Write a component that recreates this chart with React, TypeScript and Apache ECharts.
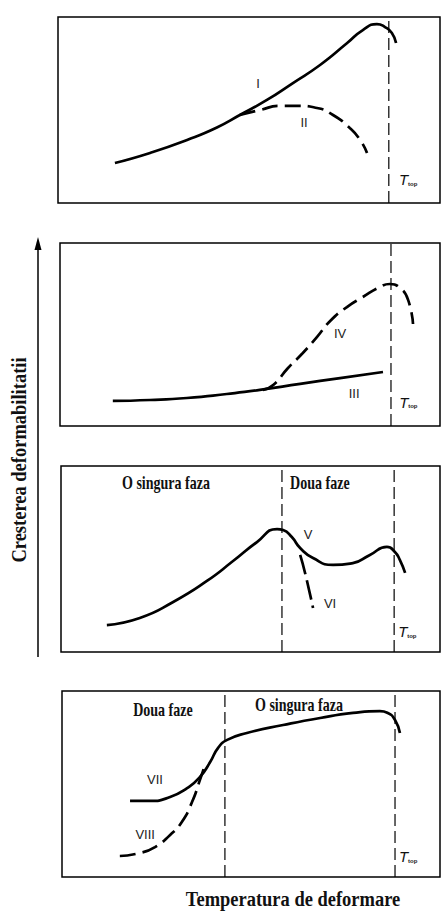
import React, { useEffect, useRef } from "react";
import * as echarts from "echarts";

// ---- data (normalised temperature 0-100, deformability 0-100) ----
const curveI = [[14.9,21.5],[24.1,26.9],[33.8,33.9],[41.6,40.6],[47.6,47.3],[54.7,55.4],[61.5,64.5],[68.6,74.2],[75.7,86.0],[79.8,93.0],[83.5,96.2],[85.6,94.6],[87.4,91.4],[88.5,86.0]];
const curveII = [[47.6,47.3],[52.9,50.0],[58.1,52.2],[62.8,52.2],[67.8,51.1],[72.0,47.3],[76.4,40.3],[79.1,33.9],[80.9,26.9]];
const curveIII = [[13.9,13.7],[23.7,14.2],[33.4,15.3],[43.9,17.5],[52.6,19.7],[63.2,23.0],[73.7,26.2],[85.0,29.5]];
const curveIV = [[53.4,19.7],[56.1,22.4],[60.0,31.7],[63.9,39.9],[67.6,48.6],[71.1,57.4],[75.5,65.0],[79.7,70.5],[84.2,76.0],[86.8,77.6],[89.5,75.4],[91.6,68.9],[92.9,55.7]];
const curveV = [[12.1,14.5],[20.8,18.3],[29.6,26.9],[38.5,38.2],[45.4,48.9],[51.7,59.1],[57.0,66.1],[58.6,65.6],[60.9,61.8],[63.1,55.9],[66.5,50.5],[71.8,46.8],[77.0,47.8],[81.5,52.2],[86.0,56.5],[88.1,53.8],[89.4,49.5],[90.8,42.5]];
const curveVI = [[63.1,52.2],[64.4,42.5],[66.5,23.7]];
const curveVII = [[18.0,40.9],[23.3,40.9],[28.6,43.0],[33.1,47.8],[36.5,53.8],[39.2,61.8],[41.3,69.4],[43.7,73.7],[48.9,77.4],[58.5,81.7],[68.3,85.5],[77.0,88.2],[84.1,89.2],[86.2,88.2],[88.1,84.4],[89.4,77.4]];
const curveVIII = [[15.3,11.3],[20.6,12.9],[24.6,16.1],[28.6,22.6],[31.7,29.6],[34.4,40.3],[36.5,52.2],[37.8,60.2]];

// vertical reference lines (temperatures) per panel
const vLines1 = [86.6];
const vLines2 = [87.1];
const vLines3 = [58.3, 87.9];
const vLines4 = [43.1, 88.1];

// curve labels [panel, x, y, text]
const numeralLabels: [number, number, number, string][] = [
  [0, 52.4, 64.5, "I"], [0, 64.4, 43.5, "II"],
  [1, 73.7, 50.8, "IV"], [1, 77.4, 17.5, "III"],
  [2, 65.2, 63.4, "V"], [2, 71.0, 26.3, "VI"],
  [3, 24.6, 52.2, "VII"], [3, 22.0, 23.1, "VIII"],
];
// T_top label anchors [panel, x, y]
const ttopLabels: [number, number, number][] = [[0, 91.1, 12.4], [1, 91.1, 13.1], [2, 90.8, 10.8], [3, 91.0, 10.8]];
// phase labels [panel, x, y, text]
const phaseLabels: [number, number, number, string][] = [
  [2, 27.7, 90.9, "O singura faza"], [2, 68.3, 90.9, "Doua faze"],
  [3, 26.7, 89.8, "Doua faze"], [3, 62.7, 92.5, "O singura faza"],
];
const yTitle = "Cresterea deformabilitatii";
const xTitle = "Temperatura de deformare";

// ---- layout ----
const gridBoxes = [
  { left: 58, top: 17, width: 382, height: 186 },
  { left: 60, top: 243, width: 380, height: 183 },
  { left: 61, top: 466, width: 379, height: 186 },
  { left: 62, top: 691, width: 378, height: 186 },
];

const SANS = '"Liberation Sans", Arial, sans-serif';
const SERIF = '"Liberation Serif", "Times New Roman", serif';

export default function App() {
  const ref = useRef<HTMLDivElement>(null);
  useEffect(() => {
    if (!ref.current) return;
    const chart = echarts.init(ref.current, undefined, { renderer: "svg" });
    const curve = (g: number, data: number[][], dashed: boolean, dash?: number[]) => ({
      type: "line", xAxisIndex: g, yAxisIndex: g, data, smooth: 0.55, showSymbol: false, silent: true,
      lineStyle: { color: "#000", width: 2.7, type: dashed ? (dash || [14, 6]) : "solid", cap: "butt" },
      z: 3,
    });
    const vline = (g: number, x: number) => ({
      type: "line", xAxisIndex: g, yAxisIndex: g, data: [[x, 0], [x, 100]], showSymbol: false, silent: true,
      lineStyle: { color: "#000", width: 1.2, type: [12, 5] }, z: 2,
    });
    const series: any[] = [
      curve(0, curveI, false), curve(0, curveII, true, [16, 7]),
      curve(1, curveIII, false), curve(1, curveIV, true, [16, 7]),
      curve(2, curveV, false), curve(2, curveVI, true, [20, 6]),
      curve(3, curveVII, false), curve(3, curveVIII, true, [16, 7]),
    ];
    [vLines1, vLines2, vLines3, vLines4].forEach((arr, g) => arr.forEach((x) => series.push(vline(g, x))));
    chart.setOption({
      animation: false,
      backgroundColor: "#fff",
      grid: gridBoxes.map((b) => ({ ...b, show: true, borderColor: "#000", borderWidth: 1.5, backgroundColor: "transparent" })),
      xAxis: gridBoxes.map((_, i) => ({ type: "value", gridIndex: i, min: 0, max: 100, show: false })),
      yAxis: gridBoxes.map((_, i) => ({ type: "value", gridIndex: i, min: 0, max: 100, show: false })),
      series,
    });
    const px = (g: number, x: number, y: number) => chart.convertToPixel({ gridIndex: g } as any, [x, y]) as number[];
    const graphics: any[] = [
      { type: "line", shape: { x1: 38, y1: 657, x2: 38, y2: 246 }, style: { stroke: "#000", lineWidth: 1.5 } },
      { type: "polygon", shape: { points: [[38, 237], [34.5, 250], [41.5, 250]] }, style: { fill: "#000" } },
      {
        type: "text", x: 19, y: 460, rotation: Math.PI / 2, scaleX: 0.925,
        style: { text: yTitle, font: `bold 20px ${SERIF}`, fill: "#111", align: "center", verticalAlign: "middle" },
      },
      {
        type: "text", x: 293, y: 899, scaleX: 0.88,
        style: { text: xTitle, font: `bold 21px ${SERIF}`, fill: "#111", align: "center", verticalAlign: "middle" },
      },
    ];
    phaseLabels.forEach(([g, x, y, t]) => {
      const p = px(g, x, y);
      graphics.push({
        type: "text", x: p[0], y: p[1], scaleX: 0.78,
        style: { text: t, font: `bold 18px ${SERIF}`, fill: "#111", align: "center", verticalAlign: "middle" },
      });
    });
    numeralLabels.forEach(([g, x, y, t]) => {
      const p = px(g, x, y);
      graphics.push({
        type: "text", x: p[0], y: p[1],
        style: { text: t, font: `13px ${SANS}`, fill: "#222", align: "center", verticalAlign: "middle" },
      });
    });
    ttopLabels.forEach(([g, x, y]) => {
      const p = px(g, x, y);
      graphics.push({
        type: "text", x: p[0] - 7, y: p[1],
        style: { text: "T", font: `italic 15px ${SANS}`, fill: "#111", align: "left", verticalAlign: "middle" },
      });
      graphics.push({
        type: "text", x: p[0] + 2, y: p[1] + 4,
        style: { text: "top", font: `bold 6px ${SANS}`, fill: "#222", align: "left", verticalAlign: "middle" },
      });
    });
    chart.setOption({ graphic: graphics });
    return () => chart.dispose();
  }, []);
  return <div ref={ref} style={{ position: "absolute", left: 0, top: 0, width: 441, height: 911 }} />;
}
